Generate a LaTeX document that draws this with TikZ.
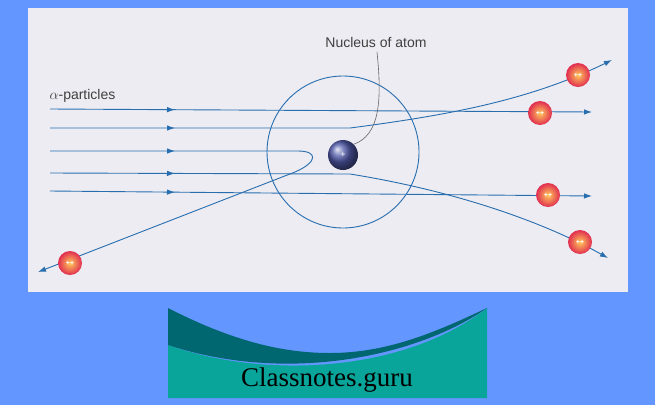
\documentclass[tikz,border=0pt]{standalone}
\usepackage{fontspec}
\setmainfont{Liberation Sans}
\newfontfamily\logofont{Liberation Serif}
\usetikzlibrary{decorations.markings,arrows.meta}
\definecolor{bgblue}{RGB}{100,150,255}
\definecolor{panel}{RGB}{236,236,242}
\definecolor{ray}{RGB}{40,110,175}
\definecolor{tealdark}{RGB}{0,102,112}
\definecolor{teallight}{RGB}{10,165,154}
\definecolor{pin}{RGB}{255,200,90}
\definecolor{pout}{RGB}{225,45,80}
\definecolor{ncol}{RGB}{80,90,170}
\tikzset{
  ray/.style={draw=ray,line width=0.9pt},
  midarrow/.style={postaction={decorate},decoration={markings,mark=at position 125pt with {\arrow{Latex[length=8pt,width=5.5pt]}}}},
  endarrow/.style={-{Latex[length=8pt,width=5.5pt]}},
  alpha/.style={circle,minimum size=24pt,inner sep=0pt,shading=radial,inner color=pin,outer color=pout,text=white,font=\scriptsize\bfseries},
  nucleus/.style={circle,minimum size=30pt,inner sep=0pt,shading=ball,ball color=ncol,text=white,font=\small},
  lbl/.style={text=black!75,font=\fontsize{14}{16}\selectfont}
}
\begin{document}
\begin{tikzpicture}[x=1pt,y=-1pt]
\fill[bgblue] (0,0) rectangle (655,405);
\useasboundingbox (0,0) rectangle (655,405);
\fill[panel] (28,8) rectangle (628,292);
% atom
\node[circle,draw=ray,line width=0.9pt,minimum size=152pt,inner sep=0pt] (atom) at (343,152) {};
% rays
\coordinate (s1) at (50,109); \coordinate (e1) at (592,112);
\coordinate (s2) at (50,128); \coordinate (e2) at (612,60);
\coordinate (s3) at (50,151); \coordinate (e3) at (38,272);
\coordinate (s4) at (50,173); \coordinate (e4) at (608,258);
\coordinate (s5) at (50,191); \coordinate (e5) at (592,196);
\draw[ray,midarrow,endarrow] (s1) -- (e1);
\draw[ray,midarrow,endarrow] (s2) -- (350,128) .. controls (450,115) and (530,100) .. (e2);
\draw[ray,midarrow,endarrow] (s3) -- (298,151) .. controls (318,151) and (318,162) .. (295,172) -- (e3);
\draw[ray,midarrow,endarrow] (s4) -- (350,174) .. controls (450,190) and (540,220) .. (e4);
\draw[ray,midarrow,endarrow] (s5) -- (e5);
% nucleus
\node[nucleus] (nuc) at (343,155) {+};
\node[lbl] (nl) at (376,42) {Nucleus of atom};
\draw[black!60,line width=0.6pt] (377,52) .. controls (382,100) and (380,135) .. (nuc.north east);
\node[lbl,anchor=west] (al) at (46,96) {$\alpha$-particles};
% alpha particles
\node[alpha] (p1) at (578,75) {++};
\node[alpha] (p2) at (540,113) {++};
\node[alpha] (p3) at (548,195) {++};
\node[alpha] (p4) at (580,242) {++};
\node[alpha] (p5) at (70,263) {++};
% logo
\fill[teallight] (168,345) .. controls (260,378) and (400,375) .. (487,308) -- (487,398) -- (168,398) -- cycle;
\fill[tealdark] (168,308) .. controls (240,345) and (290,353) .. (330,353) .. controls (390,353) and (440,330) .. (487,308) .. controls (420,355) and (290,385) .. (168,345) -- cycle;
\node[font=\logofont\fontsize{27}{29}\selectfont] (logo) at (327,380) {Classnotes.guru};
\end{tikzpicture}
\end{document}
